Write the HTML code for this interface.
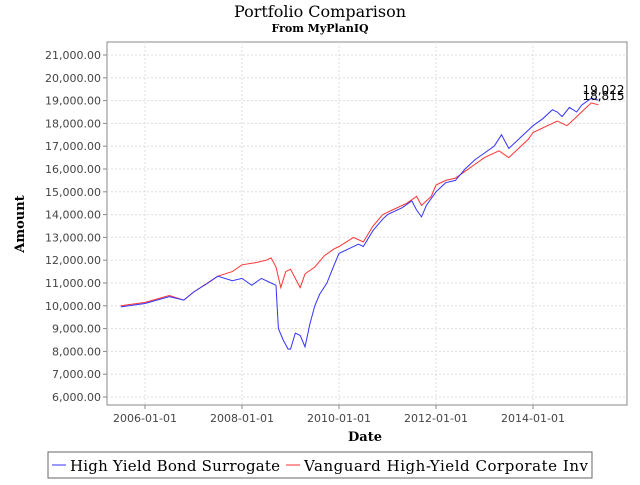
<!DOCTYPE html>
<html><head><meta charset="utf-8"><style>
body{margin:0;background:#fff;}
svg text{font-family:"DejaVu Sans","Liberation Sans",sans-serif;}
</style></head><body>
<svg width="640" height="480" xmlns="http://www.w3.org/2000/svg">
<rect width="640" height="480" fill="#fff"/>
<text x="320" y="17" text-anchor="middle" font-size="16" style="font-family:'DejaVu Serif','Liberation Serif',serif">Portfolio Comparison</text>
<text x="320" y="32" text-anchor="middle" font-size="11" font-weight="bold" style="font-family:'DejaVu Serif','Liberation Serif',serif">From MyPlanIQ</text>
<rect x="107" y="42" width="520" height="363" fill="#fff" stroke="#888"/>
<g id="grid"></g><g id="axes"></g><g id="series"></g>
<text x="365" y="441" text-anchor="middle" font-size="13" font-weight="bold" style="font-family:'DejaVu Serif','Liberation Serif',serif">Date</text>
<text transform="translate(24,224) rotate(-90)" text-anchor="middle" font-size="13" font-weight="bold" style="font-family:'DejaVu Serif','Liberation Serif',serif">Amount</text>
<g>
<rect x="48" y="452" width="544" height="26" fill="#fff" stroke="#666"/>
<line x1="52" y1="465" x2="66" y2="465" stroke="#3333ff"/>
<text x="70" y="471" font-size="15" textLength="210" style="font-family:'DejaVu Serif','Liberation Serif',serif">High Yield Bond Surrogate</text>
<line x1="286" y1="465" x2="300" y2="465" stroke="#ff3333"/>
<text x="304" y="471" font-size="15" textLength="284" style="font-family:'DejaVu Serif','Liberation Serif',serif">Vanguard High-Yield Corporate Inv</text>
</g>
</svg>
<script>
const blueT=[2005.5,2006.0,2006.5,2006.8,2007.0,2007.3,2007.5,2007.8,2008.0,2008.2,2008.4,2008.6,2008.7,2008.75,2008.85,2008.95,2009.0,2009.1,2009.2,2009.3,2009.4,2009.5,2009.6,2009.75,2009.9,2010.0,2010.2,2010.4,2010.5,2010.7,2010.9,2011.0,2011.3,2011.5,2011.6,2011.7,2011.8,2012.0,2012.2,2012.4,2012.6,2012.8,2013.0,2013.2,2013.35,2013.5,2013.7,2013.9,2014.0,2014.2,2014.4,2014.5,2014.6,2014.75,2014.9,2015.0,2015.2,2015.35];
const blueV=[9950,10100,10400,10250,10600,11000,11300,11100,11200,10900,11200,11000,10900,9000,8500,8100,8100,8800,8700,8200,9200,10000,10500,11000,11800,12300,12500,12700,12600,13300,13800,14000,14300,14600,14200,13900,14400,15000,15400,15500,16000,16400,16700,17000,17500,16900,17300,17700,17900,18200,18600,18500,18300,18700,18500,18800,19100,19022];
const redT=[2005.5,2006.0,2006.5,2006.8,2007.0,2007.5,2007.8,2008.0,2008.3,2008.5,2008.6,2008.7,2008.8,2008.9,2009.0,2009.1,2009.2,2009.3,2009.5,2009.7,2009.9,2010.0,2010.3,2010.5,2010.7,2010.9,2011.1,2011.4,2011.6,2011.7,2011.9,2012.0,2012.2,2012.4,2012.6,2012.8,2013.0,2013.3,2013.5,2013.7,2013.9,2014.0,2014.3,2014.5,2014.7,2014.9,2015.0,2015.2,2015.35];
const redV=[10000,10150,10450,10250,10600,11300,11500,11800,11900,12000,12100,11700,10800,11500,11600,11200,10800,11400,11700,12200,12500,12600,13000,12800,13500,14000,14200,14500,14800,14400,14800,15300,15500,15600,15900,16200,16500,16800,16500,16900,17300,17600,17900,18100,17900,18300,18500,18900,18815];
const yTicks=[6000,7000,8000,9000,10000,11000,12000,13000,14000,15000,16000,17000,18000,19000,20000,21000];
const xTicks=[2006,2008,2010,2012,2014];
const xTickLabels=["2006-01-01","2008-01-01","2010-01-01","2012-01-01","2014-01-01"];
const NS="http://www.w3.org/2000/svg";
const X=t=>145+(t-2006)*48.5;
const Y=v=>397-(v-6000)/1000*22.8;
function mk(tag,attrs,parent){const e=document.createElementNS(NS,tag);for(const k in attrs)e.setAttribute(k,attrs[k]);document.getElementById(parent).appendChild(e);return e;}
yTicks.forEach(v=>{
 const g=mk('line',{x1:107,x2:627,y1:Y(v),y2:Y(v),stroke:'#ddd','stroke-dasharray':'2,2'},'grid');
 
 
 mk('line',{x1:103,x2:107,y1:Y(v),y2:Y(v),stroke:'#888'},'axes');
 const t=mk('text',{x:101,y:Y(v)+4,'text-anchor':'end','font-size':11,fill:'#444'},'axes');
 t.textContent=v.toLocaleString('en-US',{minimumFractionDigits:2});
 
 
});
xTicks.forEach((v,i)=>{
 const g=mk('line',{x1:X(v),x2:X(v),y1:42,y2:405,stroke:'#ddd','stroke-dasharray':'2,2'},'grid');
 
 
 mk('line',{x1:X(v),x2:X(v),y1:405,y2:409,stroke:'#888'},'axes');
 const t=mk('text',{x:X(v),y:422,'text-anchor':'middle','font-size':11,fill:'#444'},'axes');
 t.textContent=xTickLabels[i];
 
 
});
function line(T,V,color,name){
 const p=mk('polyline',{points:T.map((t,i)=>X(t).toFixed(1)+','+Y(V[i]).toFixed(1)).join(' '),fill:'none',stroke:color,'stroke-width':1},'series');
 
 
 const n=T.length-1;
 return [X(T[n]),Y(V[n]),V[n]];
}
const r=line(redT,redV,'#ff3333','series-vanguard');
const b=line(blueT,blueV,'#3333ff','series-high-yield-bond-surrogate');
const lb=mk('text',{x:b[0]-16,y:94,'font-size':12},'series');
lb.textContent=b[2].toLocaleString('en-US');


const lr=mk('text',{x:r[0]-16,y:100,'font-size':12},'series');
lr.textContent=r[2].toLocaleString('en-US');


</script>
</body></html>
